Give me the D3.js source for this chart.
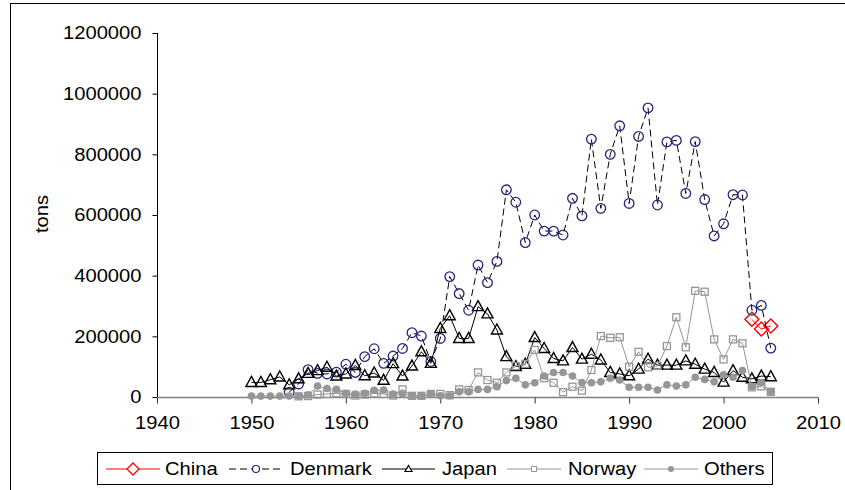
<!DOCTYPE html>
<html>
<head>
<meta charset="utf-8">
<script src="https://cdn.jsdelivr.net/npm/d3@7"></script>
<style>
  html, body { margin: 0; padding: 0; background: #fff; }
  svg { display: block; font-family: "Liberation Sans", Arial, sans-serif; }
</style>
</head>
<body>
<svg id="chart" width="845" height="490"></svg>
<script>
// Annual catch (tons) by country
const chinaYears = [2003, 2004, 2005];
const chinaValues = [256000, 224000, 234000];

const denmarkStart = 1954;
const denmarkValues = [
  16000, 43000, 90000, 78000, 76000, 82000, 108000, 81000, 133000, 159000,
  111000, 135000, 160000, 212000, 201000, 117000, 193000, 397000, 341000, 286000,
  435000, 377000, 447000, 683000, 642000, 509000, 600000, 547000, 547000, 534000,
  655000, 597000, 850000, 622000, 800000, 894000, 638000, 859000, 953000, 633000,
  841000, 846000, 671000, 842000, 651000, 531000, 571000, 667000, 666000, 286000,
  302000, 161000
];

const japanStart = 1950;
const japanValues = [
  48000, 48000, 57000, 66000, 40000, 60000, 78000, 87000, 98000, 69000,
  76000, 104000, 70000, 79000, 55000, 110000, 69000, 102000, 149000, 111000,
  226000, 268000, 193000, 193000, 298000, 274000, 221000, 133000, 100000, 108000,
  196000, 160000, 127000, 119000, 163000, 125000, 141000, 122000, 81000, 76000,
  70000, 92000, 125000, 105000, 105000, 105000, 119000, 108000, 92000, 81000,
  49000, 87000, 65000, 60000, 69000, 67000
];

const norwayStart = 1955;
const norwayValues = [
  2000, 3000, 8000, 10000, 12000, 10000, 5000, 8000, 12000, 10000,
  5000, 25000, 4000, 4000, 10000, 10000, 6000, 25000, 23000, 81000,
  56000, 47000, 81000, 102000, 109000, 155000, 62000, 47000, 16000, 34000,
  21000, 89000, 201000, 195000, 197000, 100000, 149000, 98000, 102000, 168000,
  263000, 164000, 350000, 347000, 190000, 124000, 190000, 177000, 32000, 35000,
  17000
];

const othersStart = 1950;
const othersValues = [
  3000, 3000, 3000, 3000, 3000, 3000, 7000, 36000, 28000, 25000,
  12000, 10000, 12000, 22000, 23000, 10000, 10000, 4000, 4000, 10000,
  4000, 4000, 17000, 17000, 25000, 25000, 34000, 54000, 62000, 40000,
  47000, 69000, 81000, 81000, 69000, 48000, 47000, 50000, 62000, 56000,
  32000, 32000, 32000, 23000, 40000, 36000, 40000, 65000, 58000, 50000,
  73000, 65000, 87000, 35000, 48000, 18000
];

const xTicks = [1940, 1950, 1960, 1970, 1980, 1990, 2000, 2010];
const yTicks = [0, 200000, 400000, 600000, 800000, 1000000, 1200000];
const yLabel = "tons";

const toPoints = (start, values) => values.map((v, i) => ({ year: start + i, value: v }));
const series = [
  { name: "China", data: chinaYears.map((yr, i) => ({ year: yr, value: chinaValues[i] })),
    color: "#ff0000", dash: null, marker: "diamond" },
  { name: "Denmark", data: toPoints(denmarkStart, denmarkValues),
    color: "#000000", markerColor: "#26267f", dash: "7,4", marker: "circle" },
  { name: "Japan", data: toPoints(japanStart, japanValues),
    color: "#000000", dash: null, marker: "triangle" },
  { name: "Norway", data: toPoints(norwayStart, norwayValues),
    color: "#969696", dash: null, marker: "square" },
  { name: "Others", data: toPoints(othersStart, othersValues),
    color: "#969696", dash: null, marker: "dot" }
];

const svg = d3.select("#chart");

// outer chart frame
svg.append("rect")
  .attr("x", 10.5).attr("y", 3.5).attr("width", 900).attr("height", 600)
  .attr("fill", "none").attr("stroke", "#000").attr("stroke-width", 1);

const x = d3.scaleLinear().domain([1940, 2010]).range([157, 818]);
const y = d3.scaleLinear().domain([0, 1200000]).range([397, 33]);

// y axis
const yAxis = svg.append("g")
  .attr("transform", "translate(157.5,0)")
  .call(d3.axisLeft(y).tickValues(yTicks).tickSize(5).tickPadding(11)
    .tickFormat(d3.format("d")));
yAxis.select(".domain").attr("stroke", "#000").attr("d", "M0,33V397");
yAxis.selectAll(".tick line").attr("stroke", "#000");
yAxis.selectAll("text").attr("font-size", 18).attr("fill", "#000")
  .attr("font-family", "Liberation Sans, Arial, sans-serif");

// x axis
const xAxis = svg.append("g")
  .attr("transform", "translate(0,397.5)")
  .call(d3.axisBottom(x).tickValues(xTicks).tickSize(6).tickPadding(13)
    .tickFormat(d3.format("d")));
xAxis.select(".domain").attr("stroke", "#808080").attr("stroke-width", 1.5)
  .attr("d", "M157,0H818");
xAxis.selectAll(".tick line").attr("stroke", "#333");
xAxis.selectAll("text").attr("font-size", 18).attr("fill", "#000")
  .attr("font-family", "Liberation Sans, Arial, sans-serif");

// axis title
svg.append("text")
  .attr("transform", "translate(48,214) rotate(-90)")
  .attr("text-anchor", "middle")
  .attr("font-size", 18)
  .text(yLabel);

function drawMarker(g, type, cx, cy, s) {
  const stroke = s.markerColor || s.color;
  if (type === "circle") {
    g.append("circle").attr("cx", cx).attr("cy", cy).attr("r", 4.8)
      .attr("fill", "none").attr("stroke", stroke).attr("stroke-width", 1.3);
  } else if (type === "diamond") {
    g.append("path")
      .attr("d", `M${cx},${cy - 7}L${cx + 7},${cy}L${cx},${cy + 7}L${cx - 7},${cy}Z`)
      .attr("fill", "none").attr("stroke", stroke).attr("stroke-width", 1.4);
  } else if (type === "triangle") {
    g.append("path")
      .attr("d", `M${cx},${cy - 6}L${cx + 5.5},${cy + 4}L${cx - 5.5},${cy + 4}Z`)
      .attr("fill", "none").attr("stroke", stroke).attr("stroke-width", 1.4);
  } else if (type === "square") {
    g.append("rect").attr("x", cx - 3.5).attr("y", cy - 3.5)
      .attr("width", 7).attr("height", 7)
      .attr("fill", "none").attr("stroke", stroke).attr("stroke-width", 1.3);
  } else if (type === "dot") {
    g.append("circle").attr("cx", cx).attr("cy", cy).attr("r", 3.8)
      .attr("fill", stroke).attr("stroke", "none");
  }
}

const line = d3.line().x(d => x(d.year)).y(d => y(d.value));

series.forEach(s => {
  const g = svg.append("g").attr("class", "series");
  g.append("path").datum(s.data)
    .attr("d", line)
    .attr("fill", "none")
    .attr("stroke", s.color)
    .attr("stroke-width", 1)
    .attr("stroke-dasharray", s.dash);
  s.data.forEach(d => drawMarker(g, s.marker, x(d.year), y(d.value), s));
});

// legend
const legend = svg.append("g");
legend.append("rect")
  .attr("x", 97.5).attr("y", 452.5).attr("width", 675).attr("height", 32)
  .attr("fill", "#fff").attr("stroke", "#000");

const legendItems = [
  { s: series[0], x0: 106, x1: 160, tx: 165 },
  { s: series[1], x0: 229, x1: 283, tx: 290 },
  { s: series[2], x0: 382, x1: 435, tx: 442 },
  { s: series[3], x0: 507, x1: 561, tx: 568 },
  { s: series[4], x0: 644, x1: 698, tx: 704 }
];
legendItems.forEach(it => {
  const cy = 469;
  legend.append("line")
    .attr("x1", it.x0).attr("x2", it.x1).attr("y1", cy).attr("y2", cy)
    .attr("stroke", it.s.color).attr("stroke-width", 1)
    .attr("stroke-dasharray", it.s.dash);
  const cx = (it.x0 + it.x1) / 2;
  if (it.s.marker === "circle") {
    legend.append("circle").attr("cx", cx).attr("cy", cy).attr("r", 3.5)
      .attr("fill", "#fff").attr("stroke", it.s.markerColor).attr("stroke-width", 1.2);
  } else if (it.s.marker === "diamond") {
    legend.append("path")
      .attr("d", `M${cx},${cy - 6}L${cx + 6},${cy}L${cx},${cy + 6}L${cx - 6},${cy}Z`)
      .attr("fill", "#fff").attr("stroke", it.s.color).attr("stroke-width", 1.3);
  } else if (it.s.marker === "triangle") {
    legend.append("path")
      .attr("d", `M${cx},${cy - 3.5}L${cx + 3.5},${cy + 2.5}L${cx - 3.5},${cy + 2.5}Z`)
      .attr("fill", "#fff").attr("stroke", it.s.color).attr("stroke-width", 1.2);
  } else if (it.s.marker === "square") {
    legend.append("rect").attr("x", cx - 2.5).attr("y", cy - 2.5)
      .attr("width", 5).attr("height", 5)
      .attr("fill", "#fff").attr("stroke", it.s.color).attr("stroke-width", 1);
  } else if (it.s.marker === "dot") {
    legend.append("circle").attr("cx", cx).attr("cy", cy).attr("r", 3)
      .attr("fill", it.s.color);
  }
  legend.append("text")
    .attr("x", it.tx).attr("y", cy).attr("dy", "0.35em")
    .attr("font-size", 18)
    .text(it.s.name);
});

// the lettering is set slightly wide: stretch each label horizontally
svg.selectAll("text").each(function () {
  const w = this.getComputedTextLength();
  d3.select(this)
    .attr("textLength", (w * 1.12).toFixed(1))
    .attr("lengthAdjust", "spacingAndGlyphs");
});
</script>
</body>
</html>
